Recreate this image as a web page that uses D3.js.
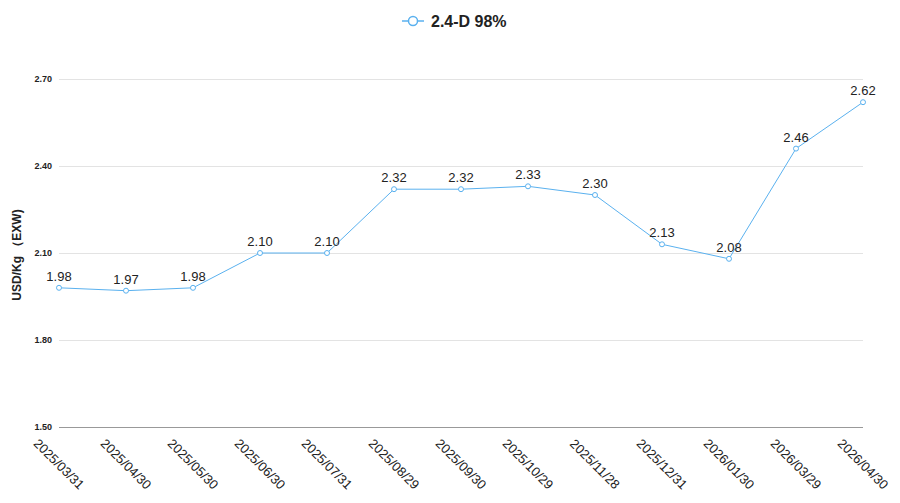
<!DOCTYPE html>
<html>
<head>
<meta charset="utf-8">
<script src="https://cdn.jsdelivr.net/npm/d3@7"></script>
<style>
  body { margin: 0; background: #fff; }
  svg { font-family: "Liberation Sans", Arial, sans-serif; display: block; }
</style>
</head>
<body>
<div class="chart"></div>
<script>
// data
const dates = ["2025/03/31", "2025/04/30", "2025/05/30", "2025/06/30", "2025/07/31", "2025/08/29",
  "2025/09/30", "2025/10/29", "2025/11/28", "2025/12/31", "2026/01/30", "2026/03/29", "2026/04/30"];
const prices = [1.98, 1.97, 1.98, 2.10, 2.10, 2.32, 2.32, 2.33, 2.30, 2.13, 2.08, 2.46, 2.62];
const yTicks = [1.50, 1.80, 2.10, 2.40, 2.70];
const seriesName = "2.4-D 98%";
const yTitle = "USD/Kg （EXW)";

const W = 900, H = 503;
const lineColor = "#5ab1ef";

const svg = d3.select(".chart").append("svg")
  .attr("width", W).attr("height", H);

const x = d3.scalePoint().domain(dates).range([59, 863]);
const y = d3.scaleLinear().domain([1.5, 2.7]).range([427, 79]);

// grid lines + y labels
const yAxis = svg.append("g")
  .attr("transform", "translate(59,0)")
  .call(d3.axisLeft(y).tickValues(yTicks).tickFormat(d3.format(".2f")).tickSize(-804).tickPadding(7));
yAxis.select(".domain").remove();
yAxis.selectAll(".tick line").attr("stroke", (d) => d === 1.5 ? "#999" : "#e3e3e3");
yAxis.selectAll(".tick text")
  .attr("font-size", 9).attr("font-weight", "bold").attr("fill", "#222")
  .attr("font-family", "Liberation Sans, Arial, sans-serif");

// x labels, rotated 45deg around their centre
svg.append("g").selectAll("text")
  .data(dates)
  .join("text")
    .attr("transform", d => `translate(${x(d)},464) rotate(45)`)
    .attr("text-anchor", "middle")
    .attr("dy", "0.35em")
    .attr("font-size", 13)
    .attr("fill", "#222")
    .text(d => d);

// y axis title
svg.append("text")
  .attr("transform", "translate(21,255) rotate(-90)")
  .attr("text-anchor", "middle")
  .attr("font-size", 12)
  .attr("font-weight", "bold")
  .attr("fill", "#222")
  .text(yTitle);

// line
const line = d3.line()
  .x((d, i) => x(dates[i]))
  .y(d => y(d));

svg.append("path")
  .datum(prices)
  .attr("fill", "none")
  .attr("stroke", lineColor)
  .attr("stroke-width", 1)
  .attr("d", line);

svg.append("g").selectAll("circle")
  .data(prices)
  .join("circle")
    .attr("cx", (d, i) => x(dates[i]))
    .attr("cy", d => y(d))
    .attr("r", 2.5)
    .attr("fill", "#fff")
    .attr("stroke", lineColor)
    .attr("stroke-width", 1);

// value labels
svg.append("g").selectAll("text")
  .data(prices)
  .join("text")
    .attr("x", (d, i) => x(dates[i]))
    .attr("y", d => y(d) - 7)
    .attr("text-anchor", "middle")
    .attr("font-size", 13)
    .attr("fill", "#222")
    .text(d => d.toFixed(2));

// legend
const legend = svg.append("g").attr("transform", "translate(402,21)");
legend.append("line")
  .attr("x1", 0).attr("x2", 22).attr("y1", 0).attr("y2", 0)
  .attr("stroke", lineColor).attr("stroke-width", 1.5);
legend.append("circle")
  .attr("cx", 11).attr("cy", 0).attr("r", 4.5)
  .attr("fill", "#fff").attr("stroke", lineColor).attr("stroke-width", 1.5);
legend.append("text")
  .attr("x", 29).attr("y", 0).attr("dy", "0.35em")
  .attr("font-size", 16).attr("font-weight", "bold").attr("fill", "#222")
  .text(seriesName);
</script>
</body>
</html>
